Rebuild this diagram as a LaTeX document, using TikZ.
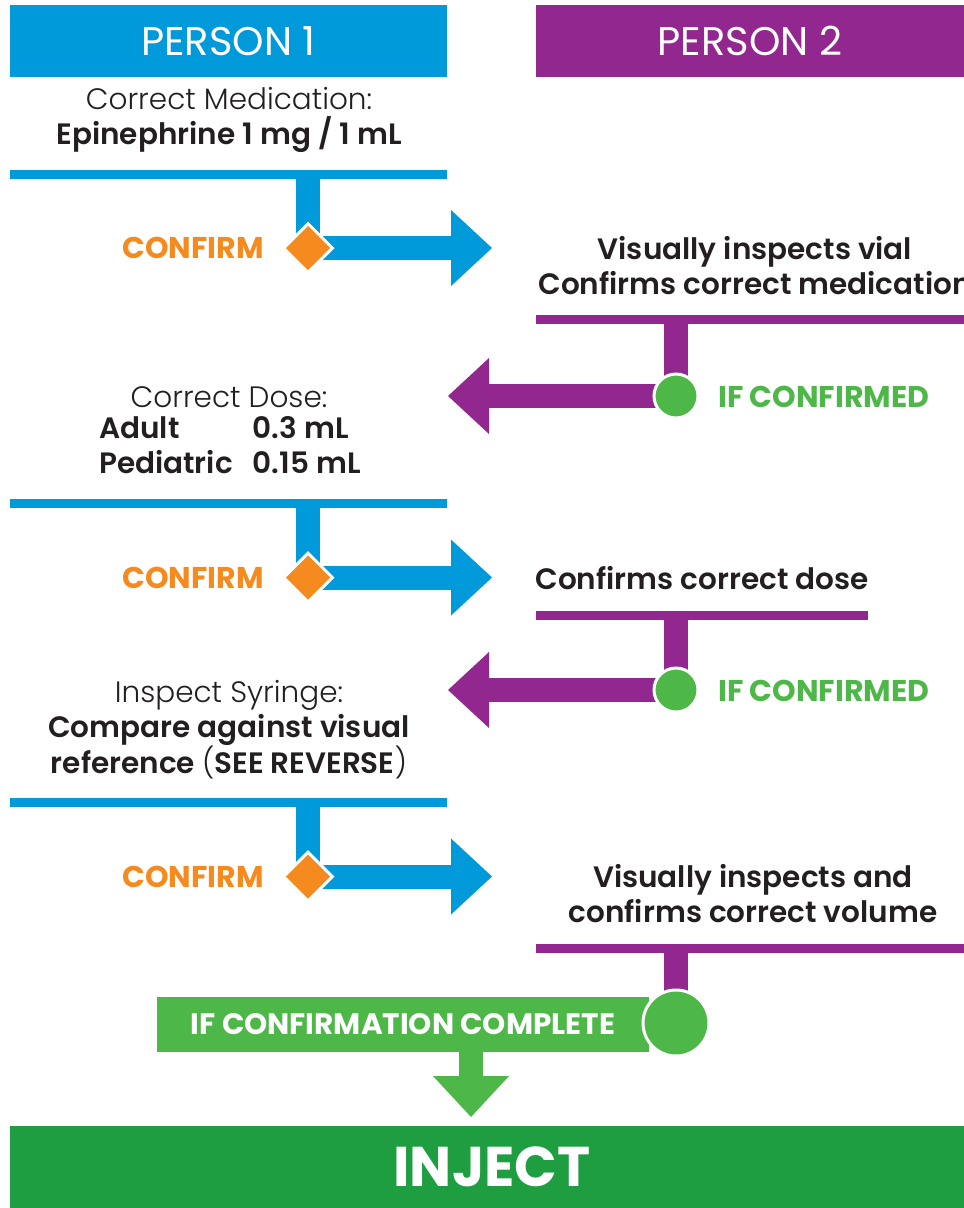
\documentclass[tikz,border=0pt]{standalone}
\usepackage{fontspec}
\setmainfont{Poppins}
\IfFontExistsTF{Poppins Light}{\newfontfamily\lightfont{Poppins Light}}{\newfontfamily\lightfont{Poppins}}
\IfFontExistsTF{Poppins SemiBold}{\newfontfamily\semifont{Poppins SemiBold}}{\newcommand\semifont{\bfseries}}
\usetikzlibrary{shapes.geometric,arrows.meta,backgrounds}
\definecolor{p1blue}{HTML}{0099DA}
\definecolor{p2purple}{HTML}{92278F}
\definecolor{confirmorange}{HTML}{F58A1F}
\definecolor{okgreen}{HTML}{4DB848}
\definecolor{injectgreen}{HTML}{1E9E40}
\definecolor{ink}{HTML}{231F20}
\begin{document}
\begin{tikzpicture}[x=1pt,y=-1pt,
  headbox/.style={fill=#1,text=white,minimum height=72pt,inner sep=0pt,font=\fontsize{40}{44}\selectfont},
  barline/.style={fill=#1,minimum height=9pt,inner sep=0pt},
  bodytext/.style={text=ink,align=center,inner sep=0pt,font=\fontsize{29.5}{35}\selectfont},
  confirmmark/.style={diamond,fill=confirmorange,draw=white,line width=3pt,minimum width=50pt,minimum height=50pt,inner sep=0pt},
  okdot/.style={circle,fill=okgreen,draw=white,line width=3pt,minimum size=#1,inner sep=0pt},
  steptext/.style={text=#1,inner sep=0pt,font=\fontsize{30}{34}\selectfont\bfseries},
  stemline/.style={line width=24pt,draw=#1},
  flowarrow/.style={line width=24pt,draw=#1,-{Triangle[length=41pt,width=76pt,line width=0pt]}}
]
\useasboundingbox (0,0) rectangle (964,1208);
\node[headbox=p1blue,minimum width=437pt] (p1) at (228.5,41) {PERSON 1};
\node[headbox=p2purple,minimum width=428pt] (p2) at (750,41) {PERSON 2};
\node[bodytext] (med) at (229,120) {{\lightfont Correct Medication:}\\{\semifont Epinephrine 1 mg / 1 mL}};
\node[bodytext] (dose) at (229,397) {\lightfont Correct Dose:};
\node[bodytext,anchor=west] (dosetab) at (99,448.5) {\semifont\begin{tabular}{@{}l@{\hspace{20pt}}l@{}}Adult & 0.3 mL\\Pediatric & 0.15 mL\end{tabular}};
\node[bodytext] (syr) at (229,729.5) {{\lightfont Inspect Syringe:}\\{\semifont Compare against visual}\\{\semifont reference {\lightfont(}SEE REVERSE{\lightfont)}}};
\node[bodytext] (vial) at (755,265.5) {\semifont Visually inspects vial\\\semifont Confirms correct medication};
\node[bodytext] (dose2) at (702,578) {\semifont Confirms correct dose};
\node[bodytext] (vol) at (753,894) {\semifont Visually inspects and\\\semifont confirms correct volume};
\foreach \i/\y in {1/174,2/503.5,3/802.5}
{
	\node[barline=p1blue,minimum width=437pt] (b\i) at (228.5,\y) {};
	\node[confirmmark] (c\i) at (308,\y+74) {};
	\node[steptext=confirmorange,anchor=east] (cw\i) at (264,\y+74) {CONFIRM};
	\coordinate (t\i) at (492,\y+74);
	\begin{scope}[on background layer]
		\draw[stemline=p1blue] (b\i.center -| c\i) -- (c\i.center);
		\draw[flowarrow=p1blue] (c\i.center) -- (t\i);
	\end{scope}
}
\node[barline=p2purple,minimum width=428pt] (pb1) at (750,319.5) {};
\node[barline=p2purple,minimum width=332pt] (pb2) at (702,615.5) {};
\node[barline=p2purple,minimum width=428pt] (pb3) at (750,948.5) {};
\foreach \i/\y in {1/396,2/690}
{
	\node[okdot=44pt] (d\i) at (676,\y) {};
	\node[steptext=okgreen,anchor=west] (ok\i) at (718,\y+1) {IF CONFIRMED};
	\coordinate (r\i) at (448,\y);
	\begin{scope}[on background layer]
		\draw[stemline=p2purple] (pb\i.center -| d\i) -- (d\i.center);
		\draw[flowarrow=p2purple] (d\i.center) -- (r\i);
	\end{scope}
}
\node[fill=okgreen,text=white,minimum width=492pt,minimum height=55pt,inner sep=0pt,font=\fontsize{29.5}{32}\selectfont\bfseries] (done) at (403,1024.5) {IF CONFIRMATION COMPLETE\hspace{14pt}};
\node[okdot=66pt] (d3) at (676,1023) {};
\coordinate (dt) at (471,1117);
\node[fill=injectgreen,text=white,minimum width=954pt,minimum height=82pt,inner sep=0pt,font=\fontsize{56}{60}\selectfont\bfseries] (inj) at (487,1167) {\hspace{10pt}INJECT};
\begin{scope}[on background layer]
	\draw[stemline=p2purple] (pb3.center -| d3) -- (d3.center);
	\draw[flowarrow=okgreen] (done.south -| dt) -- (dt);
\end{scope}
\end{tikzpicture}
\end{document}
